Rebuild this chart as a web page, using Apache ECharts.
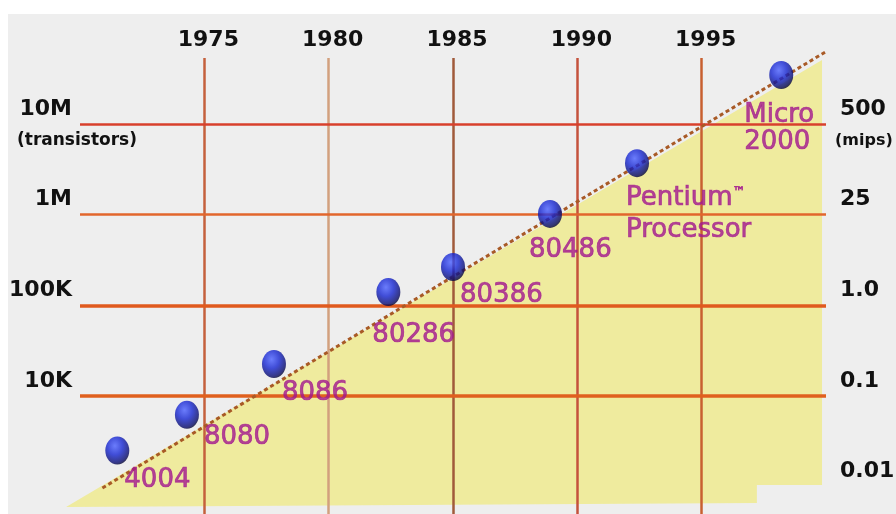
<!DOCTYPE html>
<html><head><meta charset="utf-8">
<script src="https://cdn.jsdelivr.net/npm/echarts@6/dist/echarts.min.js"></script>
<style>
html,body{margin:0;padding:0;background:#fff;}
#wrap{position:relative;width:896px;height:514px;background:#fff;overflow:hidden;}
#chart{position:absolute;left:8px;top:14px;width:888px;height:500px;background:#eeeeee;}
</style></head><body>
<div id="wrap"><div id="chart"></div></div>
<script>
// ---- data ----
const yearTicks = [1975, 1980, 1985, 1990, 1995];
const transistorTicks = [1e4, 1e5, 1e6, 1e7];
const transistorTickLabels = ['10K', '100K', '1M', '10M'];
const mipsTicks = [1e3, 1e4, 1e5, 1e6, 1e7];
const mipsTickLabels = ['0.01', '0.1', '1.0', '25', '500'];
const chipNames = ['4004', '8080', '8086', '80286', '80386', '80486', 'Pentium™\nProcessor', 'Micro\n2000'];
const chipYears = [1971.5, 1974.3, 1977.8, 1982.4, 1985.0, 1988.9, 1992.4, 1998.2];
const chipTransistors = [2500, 6200, 22500, 140000, 265000, 1020000, 3700000, 34700000];
const trendYears = [1970.9, 1999.96];
const trendTransistors = [966, 62000000];
const fillYears = [1969.44, 1999.84, 1999.84, 1997.22, 1997.22];
const fillTransistors = [597, 50800000, 1042, 1042, 661];

// ---- styles ----
const yMin = 500, yMax = 5.346e7;
const vColors = ['#c4603c', '#d2a07e', '#a05a3a', '#c4523c', '#c86030'];
const hStyles = [
  {color: '#e0601e', width: 3.5},
  {color: '#e05a1e', width: 3.5},
  {color: '#e2662c', width: 2.5},
  {color: '#d8402c', width: 2.5}
];
const labelShifts = [[7, 30], [17, 22], [8, 29], [-16, 43], [7, 28], [-21, 36], [-11, 51], [-37, 54]];
const labelLineHeights = [30, 30, 30, 30, 30, 30, 32, 27];
const axisFont = {fontFamily: 'DejaVu Sans', fontWeight: 'bold', color: '#111'};
const chipColor = '#a3188f';

function decadeIndex(v, ticks) {
  const l = Math.log10(v), k = Math.round(l);
  if (Math.abs(l - k) > 0.01) return -1;
  return ticks.findIndex(t => Math.round(Math.log10(t)) === k);
}
const richAB = {
  a: Object.assign({fontSize: 22, lineHeight: 34}, axisFont),
  b: Object.assign({fontSize: 17, lineHeight: 30}, axisFont)
};
const richRight = {
  a: Object.assign({fontSize: 22, lineHeight: 34, padding: [0, 0, 0, 5]}, axisFont),
  b: Object.assign({fontSize: 16, lineHeight: 30}, axisFont)
};

const chart = echarts.init(document.getElementById('chart'));
chart.setOption({
  animation: false,
  backgroundColor: 'transparent',
  grid: {left: 72, right: 70, top: 44, bottom: 0, containLabel: false, outerBoundsMode: 'none'},
  xAxis: {
    type: 'value', position: 'top', min: 1970, max: 2000, interval: 5,
    axisLine: {show: false}, axisTick: {show: false}, splitLine: {show: false},
    axisLabel: Object.assign({
      fontSize: 22, margin: 7, padding: [0, 0, 0, 8],
      formatter: v => yearTicks.includes(v) ? String(v) : ''
    }, axisFont)
  },
  yAxis: [
    {
      type: 'log', min: yMin, max: yMax, position: 'left',
      axisLine: {show: false}, axisTick: {show: false}, splitLine: {show: false},
      axisLabel: {
        margin: 8, align: 'right', rich: richAB,
        formatter: v => { const i = decadeIndex(v, transistorTicks); return i < 0 ? '' : '{a|' + transistorTickLabels[i] + '}\n{b| }'; }
      }
    },
    {
      type: 'log', min: yMin, max: yMax, position: 'left',
      axisLine: {show: false}, axisTick: {show: false}, splitLine: {show: false},
      axisLabel: {
        margin: 63, align: 'left', rich: richAB,
        formatter: v => { const i = decadeIndex(v, transistorTicks); return i === transistorTicks.length - 1 ? '{a| }\n{b|(transistors)}' : ''; }
      }
    },
    {
      type: 'log', min: yMin, max: yMax, position: 'right',
      axisLine: {show: false}, axisTick: {show: false}, splitLine: {show: false},
      axisLabel: {
        margin: 9, align: 'left', rich: richRight,
        formatter: v => { const i = decadeIndex(v, mipsTicks); if (i < 0) return ''; return '{a|' + mipsTickLabels[i] + '}\n{b|' + (i === mipsTicks.length - 1 ? '(mips)' : ' ') + '}'; }
      }
    }
  ],
  series: [
    {
      type: 'custom', z: 0, silent: true, clip: false,
      data: fillYears.map((y, i) => [y, fillTransistors[i]]),
      renderItem: (params, api) => {
        if (params.dataIndex !== 0) return null;
        const pts = fillYears.map((y, i) => api.coord([y, fillTransistors[i]]));
        return {type: 'polygon', shape: {points: pts}, style: {fill: '#efeb9e'}};
      }
    },
    {
      type: 'line', data: [], silent: true, z: 1,
      markLine: {
        z: 1, silent: true, symbol: 'none', animation: false,
        label: {show: false},
        data: [
          ...yearTicks.map((y, i) => ({xAxis: y, lineStyle: {color: vColors[i], width: 2.5, type: 'solid'}})),
          ...transistorTicks.map((t, i) => ({yAxis: t, lineStyle: Object.assign({type: 'solid'}, hStyles[i])}))
        ]
      }
    },
    {
      type: 'line', z: 8, clip: false, symbol: 'none', showSymbol: false, silent: true,
      data: trendYears.map((y, i) => [y, trendTransistors[i]]),
      lineStyle: {color: '#a85a26', width: 3, type: [4, 3]}
    },
    {
      type: 'scatter', z: 10, silent: true,
      symbol: 'circle', symbolSize: [24, 28],
      itemStyle: {
        color: new echarts.graphic.RadialGradient(0.4, 0.33, 0.72, [
          {offset: 0, color: '#4a60ff'},
          {offset: 0.45, color: '#1424d0'},
          {offset: 0.85, color: '#06096a'},
          {offset: 1, color: '#000018'}
        ])
      },
      data: chipYears.map((y, i) => ({
        name: chipNames[i],
        value: [y, chipTransistors[i]],
        label: {lineHeight: labelLineHeights[i]}
      })),
      label: {
        show: true, position: 'inside', align: 'left', verticalAlign: 'middle',
        formatter: p => p.name.replace('™', '{tm|™}'),
        fontFamily: 'DejaVu Sans', fontSize: 26, color: chipColor,
        textBorderColor: chipColor, textBorderWidth: 0.7,
        rich: {
          tm: {fontFamily: 'DejaVu Sans', fontSize: 13, color: chipColor, padding: [0, 0, 12, 0]}
        }
      },
      labelLayout: p => ({dx: labelShifts[p.dataIndex][0], dy: labelShifts[p.dataIndex][1], hideOverlap: false})
    }
  ]
});
</script>
</body></html>
